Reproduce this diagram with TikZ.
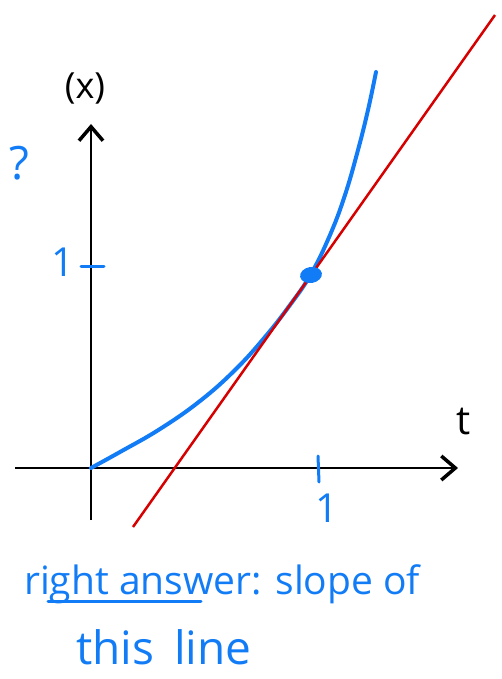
\documentclass[tikz,border=0pt]{standalone}
\usepackage{fontspec}
\setmainfont{Open Sans}
\usetikzlibrary{arrows.meta,shapes.geometric}
\definecolor{penblue}{RGB}{18,124,246}
\definecolor{penred}{RGB}{214,0,0}
\tikzset{
  axis/.style={draw=black, line width=2pt, -{Straight Barb[length=14pt,width=24pt,line width=3.5pt]}},
  bluetext/.style={text=penblue, inner sep=0pt},
  blacktext/.style={text=black, inner sep=0pt},
  curve/.style={draw=penblue, line width=4pt, line cap=round},
  tangent/.style={draw=penred, line width=2.5pt},
  tick/.style={draw=penblue, line width=3pt, line cap=round}
}
\begin{document}
\begin{tikzpicture}[x=1pt,y=-1pt]
\useasboundingbox (0,0) rectangle (501,679);
% axes
\coordinate (yb) at (91,520);
\coordinate (yt) at (91,124);
\coordinate (xl) at (15,468);
\coordinate (xr) at (458,468);
\draw[axis] (yb) -- (yt);
\draw[axis] (xl) -- (xr);
% axis labels
\node[blacktext, font=\fontsize{36}{36}\selectfont] (xlab) at (85,88) {(x)};
\node[blacktext, font=\fontsize{40}{40}\selectfont] (tlab) at (464,422) {t};
\node[bluetext, font=\fontsize{46}{46}\selectfont] (qm) at (19,163) {?};
% ticks
\coordinate (yt1) at (81,266);
\coordinate (yt2) at (104,266);
\draw[tick] (yt1) -- (yt2);
\node[bluetext, font=\fontsize{40}{40}\selectfont] (one1) at (63,262) {1};
\coordinate (xt1) at (318,456);
\coordinate (xt2) at (319,482);
\draw[tick] (xt1) -- (xt2);
\node[bluetext, font=\fontsize{40}{40}\selectfont] (one2) at (327,508) {1};
% curve
\draw[curve] plot[smooth, tension=0.7] coordinates {(91,468) (120,452) (160,429) (200,401) (235,370) (265,337) (290,305) (311,274) (330,235) (345,195) (358,150) (368,110) (376,72)};
% tangent line
\coordinate (ta) at (133,527);
\coordinate (tb) at (495,15);
\draw[tangent] (ta) -- (tb);
% point
\node[ellipse, fill=penblue, minimum width=22pt, minimum height=16pt, inner sep=0pt, rotate=10] (pt) at (311,275) {};
% text
\node[bluetext, anchor=base west, font=\fontsize{39}{39}\selectfont] (t1) at (24,594) {right answer: slope of};
\coordinate (u1) at (48,601);
\coordinate (u2) at (201,601);
\draw[tick] (u1) -- (u2);
\node[bluetext, anchor=base west, font=\fontsize{46}{46}\selectfont] (t2) at (76,664) {this\hskip 20pt line};
\end{tikzpicture}
\end{document}
